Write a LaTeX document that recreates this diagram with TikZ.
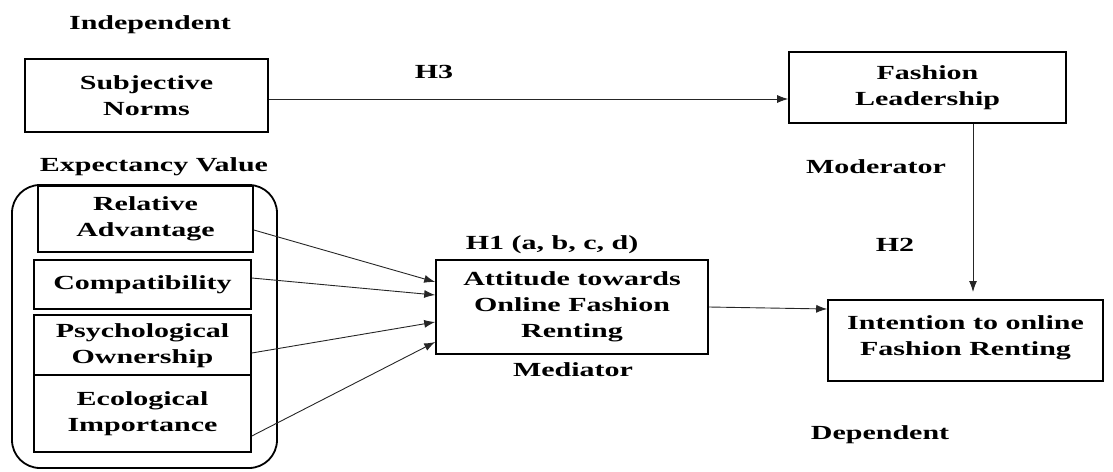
\documentclass[tikz,border=0pt]{standalone}
\usepackage{fontspec}
\setmainfont{Liberation Serif}[FakeStretch=1.5]
\usetikzlibrary{arrows.meta}
\begin{document}
\begin{tikzpicture}[x=1pt,y=-1pt,
  lbl/.style={font=\fontsize{20}{26}\selectfont\bfseries, inner sep=0pt, align=center},
  box/.style={draw, line width=1.6pt, inner sep=0pt, align=center, fill=white,
    font=\fontsize{20}{26}\selectfont\bfseries},
  arr/.style={line width=0.9pt, black!85, -{Latex[length=11pt,width=8pt]}}]
\useasboundingbox (0,0) rectangle (1113,471);
% group
\node[draw, line width=1.8pt, rounded corners=28pt, minimum width=265pt, minimum height=283pt, inner sep=0pt] (grp) at (144.5,326.5) {};
% boxes
\node[box, minimum width=243pt, minimum height=73pt] (sn) at (146.5,95.5) {Subjective\\Norms};
\node[box, minimum width=277pt, minimum height=71pt] (fl) at (927.5,87.5) {Fashion\\Leadership};
\node[box, minimum width=215pt, minimum height=66pt] (ra) at (145.5,219) {Relative\\Advantage};
\node[box, minimum width=217pt, minimum height=49pt] (co) at (142.5,284.5) {Compatibility};
\node[box, minimum width=217pt, minimum height=62pt] (po) at (142.5,346) {Psychological\\Ownership};
\node[box, minimum width=217pt, minimum height=77pt] (ei) at (142.5,413.5) {Ecological\\Importance};
\node[box, minimum width=272pt, minimum height=94pt] (at) at (572,307) {Attitude towards\\Online Fashion\\Renting};
\node[box, minimum width=275pt, minimum height=81pt, text depth=10pt] (in) at (965.5,340.5) {Intention to online\\Fashion Renting};
% labels
\node[lbl] (indep) at (150,25) {Independent};
\node[lbl] (expv) at (154,167) {Expectancy Value};
\node[lbl] (h3) at (434,72) {H3};
\node[lbl] (mod) at (876,167) {Moderator};
\node[lbl] (h1) at (552,245) {H1 (a, b, c, d)};
\node[lbl] (h2) at (895,245) {H2};
\node[lbl] (med) at (573,370) {Mediator};
\node[lbl] (dep) at (880,435) {Dependent};
% connectors
\draw[arr] ([yshift=-3.5pt]sn.east) -- ([yshift=-3.5pt]sn.east -| fl.west);
\coordinate (h2end) at (973,292);
\draw[arr] (fl.south -| h2end) -- (h2end);
\draw[arr] (at.east) -- ([yshift=-2pt]in.west |- at.east);
\draw[arr] ([yshift=-11pt]ra.east) -- ([yshift=25pt]at.west);
\draw[arr] ([yshift=6.5pt]co.east) -- ([yshift=12pt]at.west);
\draw[arr] ([yshift=-7pt]po.east) -- ([yshift=-15pt]at.west);
\draw[arr] ([yshift=-22.5pt]ei.east) -- ([yshift=-35pt]at.west);
\end{tikzpicture}
\end{document}
